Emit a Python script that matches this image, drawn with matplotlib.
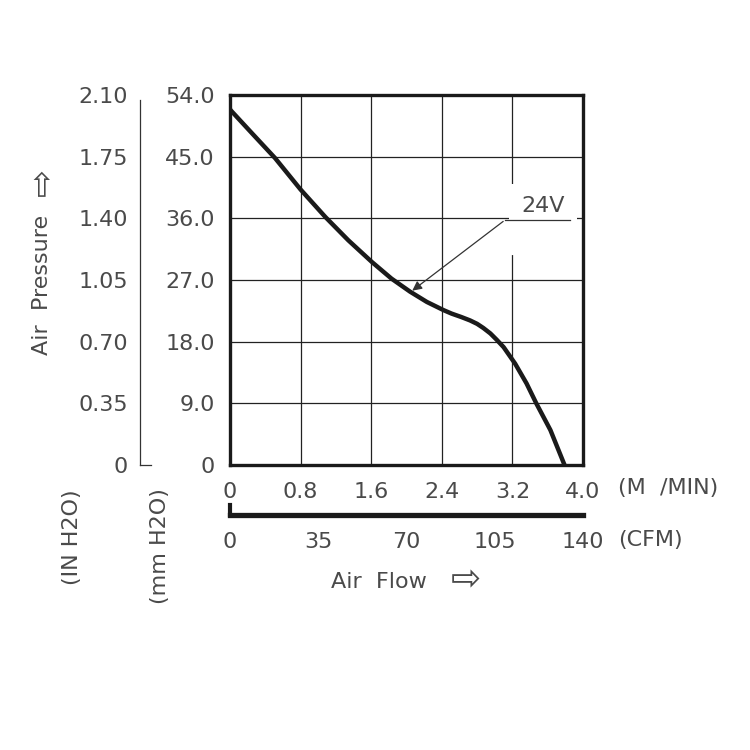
import numpy as np
import matplotlib.pyplot as plt
from matplotlib.lines import Line2D

# curve (M/MIN, mm H2O)
flow = [0.0, 0.02, 0.25, 0.51, 0.80, 1.08, 1.34, 1.61, 1.83, 2.04, 2.23, 2.42, 2.51, 2.62, 2.72,
        2.80, 2.87, 2.95, 3.02, 3.10, 3.23, 3.36, 3.47, 3.63, 3.79]
pres = [51.9, 51.6, 48.4, 44.8, 40.2, 36.2, 32.8, 29.6, 27.2, 25.3, 23.8, 22.6, 22.1, 21.6, 21.1,
        20.6, 20.0, 19.2, 18.3, 17.2, 14.8, 11.9, 9.0, 5.1, 0.0]

x_ticks = [0, 0.8, 1.6, 2.4, 3.2, 4.0]
x_labels = ["0", "0.8", "1.6", "2.4", "3.2", "4.0"]
cfm_ticks = [0, 35, 70, 105, 140]
mm_ticks = [0, 9, 18, 27, 36, 45, 54]
mm_labels = ["0", "9.0", "18.0", "27.0", "36.0", "45.0", "54.0"]
in_ticks = [0, 0.35, 0.70, 1.05, 1.40, 1.75, 2.10]
in_labels = ["0", "0.35", "0.70", "1.05", "1.40", "1.75", "2.10"]

plt.rcParams['font.family'] = ['DejaVu Sans']
tc = '#4a4a4a'
fs = 16

fig = plt.figure(figsize=(7.5, 7.5), dpi=100)
ax = fig.add_axes([0.3067, 0.38, 0.4707, 0.4933])

ax.plot(flow, pres, color='#1a1a1a', lw=3.2, solid_joinstyle='round', zorder=5)

ax.set_xlim(0, 4.0)
ax.set_ylim(0, 54)
ax.set_xticks(x_ticks)
ax.set_xticklabels(x_labels)
ax.set_yticks(mm_ticks)
ax.set_yticklabels(mm_labels)
ax.tick_params(length=0, labelsize=fs, labelcolor=tc)
ax.tick_params(axis='x', pad=12)
ax.tick_params(axis='y', pad=11)
ax.grid(True, color='#222222', lw=0.9)
for s in ax.spines.values():
    s.set_linewidth(2.4)
    s.set_color('#1a1a1a')

# IN H2O axis
sec_y = ax.secondary_yaxis(-0.255, functions=(lambda y: y * 2.10 / 54, lambda y: y * 54 / 2.10))
sec_y.set_yticks(in_ticks)
sec_y.set_yticklabels(in_labels)
sec_y.tick_params(length=0, labelsize=fs, labelcolor=tc, pad=8.5)
sec_y.spines['left'].set_linewidth(0.9)
sec_y.spines['left'].set_color('#333333')
sec_y.spines['left'].set_bounds(0, 2.07)
ax.add_line(Line2D([-0.255, -0.225], [0, 0], transform=ax.transAxes, color='#333333', lw=0.9, clip_on=False))

# CFM axis
sec_x = ax.secondary_xaxis(-0.135, functions=(lambda x: x * 35, lambda x: x / 35))
sec_x.set_xticks(cfm_ticks)
sec_x.tick_params(length=0, labelsize=fs, labelcolor=tc, pad=12)
sec_x.spines['bottom'].set_linewidth(3.8)
sec_x.spines['bottom'].set_color('#1a1a1a')
ax.add_line(Line2D([0, 0], [-0.135, -0.108], transform=ax.transAxes, color='#1a1a1a', lw=3.0, clip_on=False))

# unit labels
ax.text(1.10, -0.062, "(M  /MIN)", transform=ax.transAxes, fontsize=fs, color=tc, ha='left', va='center')
ax.text(1.10, -0.203, "(CFM)", transform=ax.transAxes, fontsize=fs, color=tc, ha='left', va='center')
fig.text(0.4413, 0.224, "Air  Flow", fontsize=fs, color=tc, ha='left', va='center')
fig.text(0.601, 0.226, "\u21e8", fontsize=26, color=tc, ha='left', va='center')
fig.text(0.056, 0.62, "Air  Pressure", fontsize=fs, color=tc, rotation=90, ha='center', va='center')
fig.text(0.056, 0.757, "\u21e8", fontsize=24, color=tc, rotation=90, ha='center', va='center')
fig.text(0.096, 0.284, "(IN H2O)", fontsize=fs, color=tc, rotation=90, ha='center', va='center')
fig.text(0.213, 0.272, "(mm H2O)", fontsize=fs, color=tc, rotation=90, ha='center', va='center')

# 24V label with leader
ax.text(3.55, 37.8, "24V", fontsize=fs, color=tc, ha='center', va='center',
        bbox=dict(boxstyle='square,pad=0.55', fc='white', ec='none'), zorder=3)
ax.plot([3.2, 3.2], [30.9, 36.5], color='white', lw=3, zorder=3)
ax.plot([3.12, 3.85], [35.8, 35.8], color='#333333', lw=0.9, zorder=4)
ax.annotate("", xy=(2.04, 25.2), xytext=(3.12, 35.8),
            arrowprops=dict(arrowstyle='-|>', color='#333333', lw=0.9, mutation_scale=14), zorder=4)

fig.savefig("out.png", dpi=100, facecolor='white')
